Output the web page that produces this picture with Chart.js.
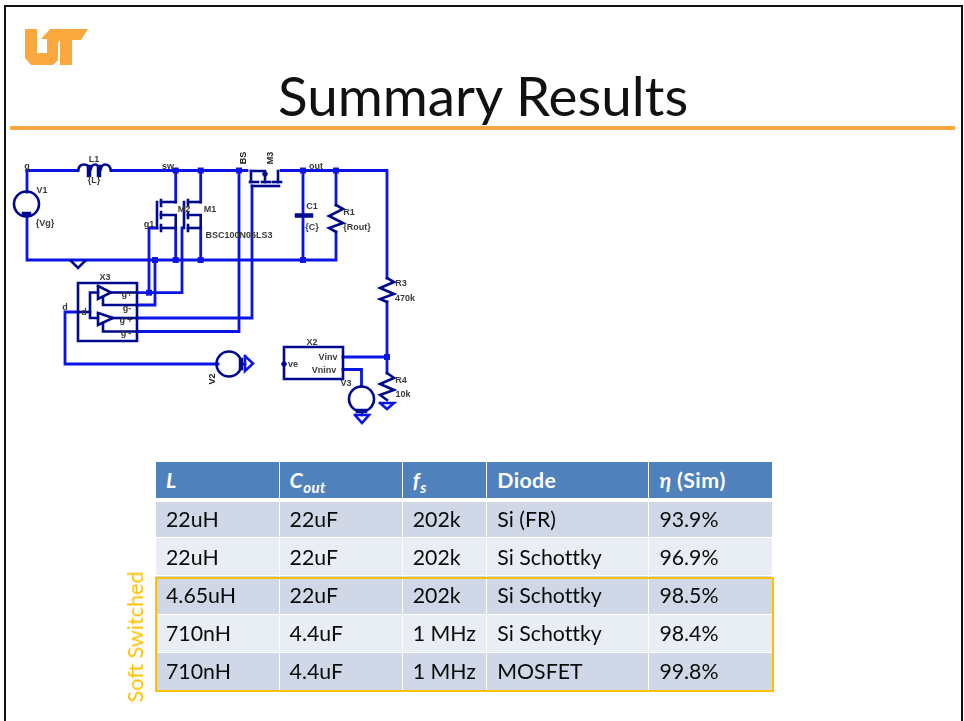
<!DOCTYPE html>
<html><head><meta charset="utf-8">
<script src="https://cdn.jsdelivr.net/npm/chart.js@4"></script>
<style>
html,body{margin:0;padding:0;background:#fff;width:964px;height:721px;overflow:hidden}
#stage{position:relative;width:964px;height:721px;overflow:hidden}
#c{position:absolute;left:0;top:0}
.frame{position:absolute;background:#111}
#rule{position:absolute;left:10px;top:126px;width:945px;height:4px;background:#FBA83F}
#title{position:absolute;left:0;top:60px;width:967px;text-align:center;font:400 54px/72px Lato,sans-serif;color:#111;white-space:nowrap;font-variant-ligatures:none}
#title span{display:inline-block;transform:scaleX(1.015)}
.lb{position:absolute;font:bold 9px/10px "Liberation Sans",Arial,sans-serif;color:#3a3a3a;white-space:nowrap;transform:translate(-50%,-50%)}
.lb.r{transform:translate(-50%,-50%) rotate(-90deg);color:#222}
table{position:absolute;left:156px;top:462px;width:617px;height:229px;border-collapse:separate;border-spacing:0;table-layout:fixed;font:21.3px Lato,sans-serif;color:#0a0a0a;font-variant-ligatures:none}
td,th{padding:0 0 0 10px;text-align:left;font-weight:400;border-right:1.5px solid #fff;border-bottom:1.5px solid #fff;box-sizing:border-box;white-space:nowrap;overflow:hidden}
th{background:#4F81BD;color:#fff;font-weight:700;border-bottom:4px solid #fff;padding-top:1px;letter-spacing:.4px}
tr.a td{background:#D0D8E8} tr.b td{background:#E9EDF4}
th i{font-style:italic} sub{font-size:15px;line-height:0}
#hl{position:absolute;left:155px;top:576.5px;width:615px;height:111.5px;border:2.5px solid #FFC000}
#soft{position:absolute;left:135px;top:637px;font:21.6px Lato,sans-serif;color:#FFC000;white-space:nowrap;transform:translate(-50%,-50%) rotate(-90deg)}
#logo{position:absolute;left:0;top:0}
</style></head><body><div id="stage">
<canvas id="c" width="964" height="721"></canvas>
<div class="frame" style="left:4px;top:5px;width:2px;height:716px"></div>
<div class="frame" style="left:4px;top:5px;width:959px;height:2px"></div>
<div class="frame" style="left:961px;top:5px;width:2px;height:716px"></div>
<svg id="logo" width="120" height="80"><polygon fill="#FBA83F" points="25,29 37,29 37,53 47,53 47,39 41,39 50,29 88,29 81,40 72,40 72,65 60,65 60,40 58,43 58,60 53,65 31,65 25,58"/></svg>
<div id="title"><span>Summary Results</span></div>
<div id="rule"></div>
<table id="tbl"></table>
<div id="hl"></div>
<div id="soft">Soft Switched</div>
</div>
<script>
// ---- table content ----
const tableHeaders = ['<i>L</i>','<i>C<sub>out</sub></i>','<i>f<sub>s</sub></i>','Diode','<i>η</i> (Sim)'];
const colL   = ['22uH','22uH','4.65uH','710nH','710nH'];
const colC   = ['22uF','22uF','22uF','4.4uF','4.4uF'];
const colF   = ['202k','202k','202k','1 MHz','1 MHz'];
const colD   = ['Si (FR)','Si Schottky','Si Schottky','Si Schottky','MOSFET'];
const colEta = ['93.9%','96.9%','98.5%','98.4%','99.8%'];

// ---- schematic nets (x, y in schematic units) ----
const wires = [
 [[27,170.5],[78,170.5]], [[111,170.5],[247,170.5]], [[281,170.5],[387,170.5],[387,278]],
 [[27,170.5],[27,192]], [[27,216],[27,260],[336,260],[336,232]], [[336,170.5],[336,205]],
 [[175.7,170.5],[175.7,202]], [[175.7,228],[175.7,260]],
 [[200.7,170.5],[200.7,202]], [[200.7,228],[200.7,260]],
 [[303,170.5],[303,214]], [[303,218],[303,260]],
 [[157,228],[149,228],[149,292.7]], [[155,260],[155,305],[137,305]],
 [[182,228],[182,292.7],[137,292.7]],
 [[239,170.5],[239,331.5],[137,331.5]], [[252,186],[252,318],[137,318]],
 [[78,312],[65,312],[65,364],[218,364]],
 [[387,302],[387,373]], [[343,357],[387,357]], [[343,369.5],[361.5,369.5],[361.5,386]]
];
const parts = [
 // M2
 [[157,202],[157,228]], [[161,200],[161,206]], [[161,212],[161,218]], [[161,225],[161,231]],
 [[161,202],[175.7,202]], [[161,215],[175.7,215],[175.7,228]], [[161,228],[175.7,228]],
 // M1
 [[184,202],[184,228]], [[188,200],[188,206]], [[188,212],[188,218]], [[188,225],[188,231]],
 [[188,202],[200.7,202]], [[188,215],[200.7,215],[200.7,228]], [[188,228],[200.7,228]],
 // M3
 [[252,186],[279,186]], [[250,182],[258,182]], [[262,182],[270,182]], [[273,182],[281,182]],
 [[251,171],[251,182]], [[278,171],[278,182]], [[251,171],[265,171],[265,182]],
 // R1, R3, R4
 [[336,205],[343,209],[329,216],[343,223],[329,228],[336,232]],
 [[387,278],[394,282],[380,288],[394,294],[380,299],[387,302]],
 [[387,373],[394,378],[380,384],[394,390],[380,395],[387,400]],
 // X3
 [[78,283],[137,283],[137,341],[78,341],[78,283]],
 [[98,286],[98,299],[111,292.5],[98,286]], [[98,313],[98,325],[113,318],[98,313]],
 [[111,292.5],[137,292.5]], [[113,318],[137,318]],
 [[103,297],[103,305],[137,305]], [[103,323],[103,331.5],[137,331.5]],
 [[98,292.5],[90,292.5],[90,318],[98,318]], [[78,312],[90,312]],
 // X2
 [[284,347],[343,347],[343,379],[284,379],[284,347]],
 // ground on bottom rail
 [[71,261],[78,268],[85,261]]
];
const thickParts = [ [[297,215.5],[311,215.5]], [[89,167],[89,175]], [[99,167],[99,175]], [[24,214],[29,214]], [[358,411],[365,411]], [[241,360],[241,368]] ];
const coil = [[78,170.5],[80,166],[84,164.5],[88,166],[90,170.5],[92,166],[95,164.5],[98,166],[100,170.5],[102,166],[105,164.5],[109,166],[111,170.5]];
const grounds = [
 [[380,403],[394,403],[387,409],[380,403]],
 [[355,415],[369,415],[362,423],[355,415]],
 [[245,356],[245,371],[253,363.5],[245,356]]
];
const groundStems = [[[362,412],[362,415]],[[242,364],[245,364]]];
const nodes = [[175.7,170.5],[200.7,170.5],[239,170.5],[303,170.5],[336,170.5],[155,260],[175.7,260],[200.7,260],[303,260],[149,292.7],[387,357]];
const sources = [[26.5,204],[229,364],[361.5,399]];
const smallDots = [[265,174],[284,364]];

// ---- schematic labels ----
const labelTexts = ['g','L1','{L}','sw','out','V1','{Vg}','M2','M1','g1','BSC100N06LS3','C1','{C}','R1','{Rout}','X3','d','g+','g-','g\'+','g\'-','d','R3','470k','X2','Vinv','Vninv','ve','V3','R4','10k'];
const labelX = [27,94,94,168,316,42,45,184,210,149,239,312,312,349,357,105,65,127,127,126,126,84,401,405,312,328,324,293,346,401,403];
const labelY = [166,159,180,166,166,190,223,209,209,224,235,206,227,212,227,277,307,294,308,320,333,312,283,298,342,357,370,364,383,380,394];
const rotatedTexts = ['BS','M3','V2'];
const rotatedX = [243,270,212];
const rotatedY = [158,158,379];

// ---- build page ----
const tbl = document.getElementById('tbl');
const colWidths = [123.5,123,84.5,162,123.5];
const rowHeights = [39.5,36.5,38,38.5,38,38];
let h = '<colgroup>'+colWidths.map(w=>`<col style="width:${w}px">`).join('')+'</colgroup>';
h += `<tr style="height:${rowHeights[0]}px">`+tableHeaders.map(t=>`<th>${t}</th>`).join('')+'</tr>';
colL.forEach((_,i)=>{ h += `<tr class="${i%2?'b':'a'}" style="height:${rowHeights[i+1]}px">`+[colL[i],colC[i],colF[i],colD[i],colEta[i]].map(t=>`<td>${t}</td>`).join('')+'</tr>'; });
tbl.innerHTML = h;
const stage = document.getElementById('stage');
labelTexts.forEach((t,i)=>{const d=document.createElement('div');d.className='lb';d.textContent=t;d.style.left=labelX[i]+'px';d.style.top=labelY[i]+'px';stage.appendChild(d);});
rotatedTexts.forEach((t,i)=>{const d=document.createElement('div');d.className='lb r';d.textContent=t;d.style.left=rotatedX[i]+'px';d.style.top=rotatedY[i]+'px';stage.appendChild(d);});

const BLUE='#0A14E6', NAVY='#000A8C';
const toPts = a => a.map(p=>({x:p[0],y:p[1]}));
const lineDs = (a,color,w,extra={}) => Object.assign({data:toPts(a),showLine:true,borderColor:color,borderWidth:w,pointRadius:0,fill:false,tension:0,borderCapStyle:'square',borderJoinStyle:'miter'},extra);
const datasets = [
 {data:toPts(sources),showLine:false,pointRadius:12.5,pointStyle:'circle',pointBackgroundColor:'rgba(0,0,0,0)',pointBorderColor:NAVY,pointBorderWidth:2.6,order:1},
 {data:toPts(smallDots),showLine:false,pointRadius:2.3,pointBackgroundColor:NAVY,pointBorderColor:NAVY,order:1},
 {data:toPts(nodes),showLine:false,pointStyle:'rect',pointRadius:4.2,pointBackgroundColor:BLUE,pointBorderColor:BLUE,pointBorderWidth:0,order:1},
 ...parts.map(a=>Object.assign(lineDs(a,NAVY,2.6),{order:2})),
 ...thickParts.map(a=>Object.assign(lineDs(a,NAVY,4.5),{order:2})),
 Object.assign(lineDs(coil,NAVY,2.6,{tension:.4}),{order:2}),
 ...grounds.map(a=>Object.assign(lineDs(a,BLUE,2.6),{order:3})),
 ...groundStems.map(a=>Object.assign(lineDs(a,NAVY,2.6),{order:3})),
 ...wires.map(a=>Object.assign(lineDs(a,BLUE,2.8),{order:4}))
];
new Chart(document.getElementById('c'),{
 type:'scatter',
 data:{datasets},
 options:{responsive:false,animation:false,devicePixelRatio:1,
  layout:{padding:0,autoPadding:false},
  scales:{x:{type:'linear',min:0,max:964,display:false},y:{type:'linear',min:0,max:721,reverse:true,display:false}},
  plugins:{legend:{display:false},tooltip:{enabled:false},title:{display:false}},
  elements:{line:{capBezierPoints:true}}}
});
</script></body></html>
